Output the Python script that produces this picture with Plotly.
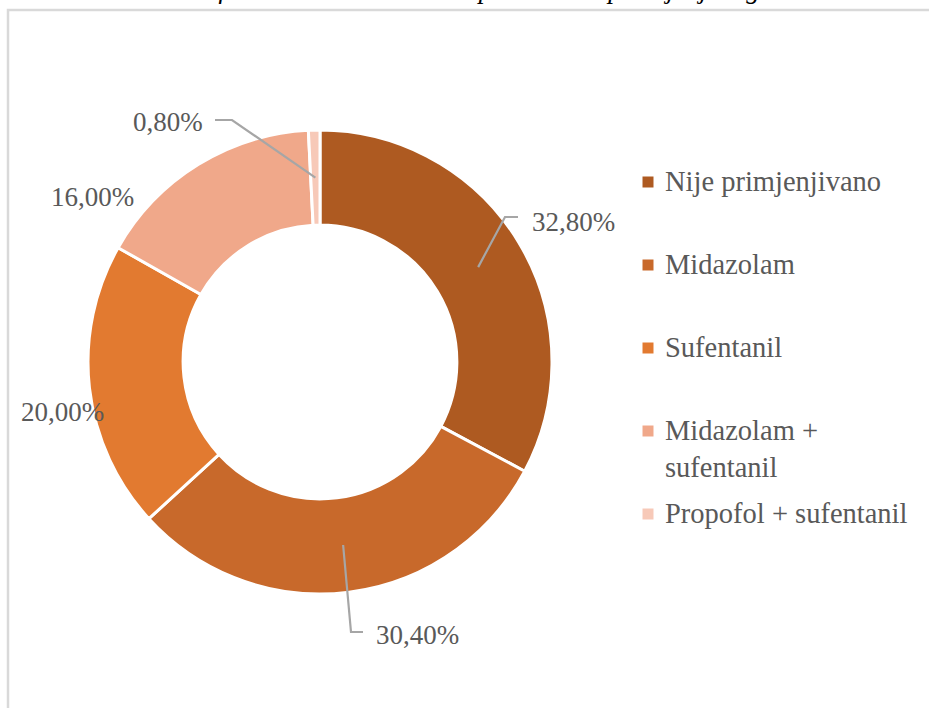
import math
import plotly.graph_objects as go

labels = ["Nije primjenjivano", "Midazolam", "Sufentanil", "Midazolam + sufentanil", "Propofol + sufentanil"]
legend_text = ["Nije primjenjivano", "Midazolam", "Sufentanil", "Midazolam +<br>sufentanil", "Propofol + sufentanil"]
values = [32.8, 30.4, 20.0, 16.0, 0.8]
value_text = ["32,80%", "30,40%", "20,00%", "16,00%", "0,80%"]
colors = ["#AE5A21", "#C8692B", "#E27A30", "#F0A88A", "#F7C9B8"]

W, H = 929, 708
CX, CY, R_OUT, HOLE = 320, 362, 232, 0.59
R_IN = R_OUT * HOLE
FONT = "Liberation Serif"
GREY = "#595959"

# label placement (pixels): text anchor, and elbow for leader lines (None = no line)
label_pos = [(530, 222, "left"), (374, 635, "left"), (62, 412, "center"), (92, 197, "center"), (205, 122, "right")]
elbows = [[(505, 217), (518, 217)], [(351, 632), (363, 632)], None, None, [(232, 120), (215, 120)]]

fig = go.Figure()
fig.add_trace(go.Pie(
    labels=labels, values=values, hole=HOLE, sort=False, direction="clockwise",
    marker=dict(colors=colors, line=dict(color="white", width=3)),
    textinfo="none", hoverinfo="label+percent", showlegend=False,
    domain=dict(x=[(CX - R_OUT) / W, (CX + R_OUT) / W],
                y=[(H - CY - R_OUT) / H, (H - CY + R_OUT) / H]),
))

shapes = [dict(type="rect", xref="x", yref="y", x0=8, y0=10, x1=W + 10, y1=H + 10,
               line=dict(color="#D9D9D9", width=2.5))]
annotations = []
total = sum(values)
cum = 0
for i, v in enumerate(values):
    mid = (cum + v / 2) / total * 2 * math.pi
    cum += v
    rm = (R_OUT + R_IN) / 2
    sx, sy = CX + rm * math.sin(mid), CY - rm * math.cos(mid)
    if elbows[i]:
        pts = [(sx, sy)] + elbows[i]
        path = "M " + " L ".join(f"{x},{y}" for x, y in pts)
        shapes.append(dict(type="path", xref="x", yref="y", path=path,
                           line=dict(color="#A6A6A6", width=2.2)))
    lx, ly, anchor = label_pos[i]
    annotations.append(dict(x=lx, y=ly, xref="x", yref="y", text=value_text[i], showarrow=False,
                            xanchor=anchor, yanchor="middle",
                            font=dict(family=FONT, size=27, color=GREY)))

# legend drawn by hand to match the wide item spacing
leg_y = [182 + 83 * i for i in range(len(labels))]
fig.add_trace(go.Scatter(x=[648] * len(labels), y=leg_y, mode="markers", hoverinfo="skip",
                         marker=dict(symbol="square", size=11, color=colors), showlegend=False))
for i, t in enumerate(legend_text):
    annotations.append(dict(x=663, y=leg_y[i] - 18, xref="x", yref="y", text=t, showarrow=False,
                            xanchor="left", yanchor="top", align="left",
                            font=dict(family=FONT, size=28.5, color=GREY)))

# caption above the frame, cut off by the top edge as in the source screenshot
annotations.append(dict(x=515, y=6, xref="x", yref="y", showarrow=False, xanchor="center", yanchor="bottom",
                        text="<i>Graf 4. Struktura bolesnika prema vrsti primijenjenog sedativa</i>",
                        font=dict(family=FONT, size=27, color="black")))

fig.update_layout(
    width=W, height=H, margin=dict(l=0, r=0, t=0, b=0),
    paper_bgcolor="white", plot_bgcolor="rgba(0,0,0,0)",
    xaxis=dict(range=[0, W], visible=False, fixedrange=True),
    yaxis=dict(range=[H, 0], visible=False, fixedrange=True),
    shapes=shapes, annotations=annotations,
)
fig.write_html("out.html", config={"displayModeBar": False},
               post_script="document.body.style.margin='0';")
